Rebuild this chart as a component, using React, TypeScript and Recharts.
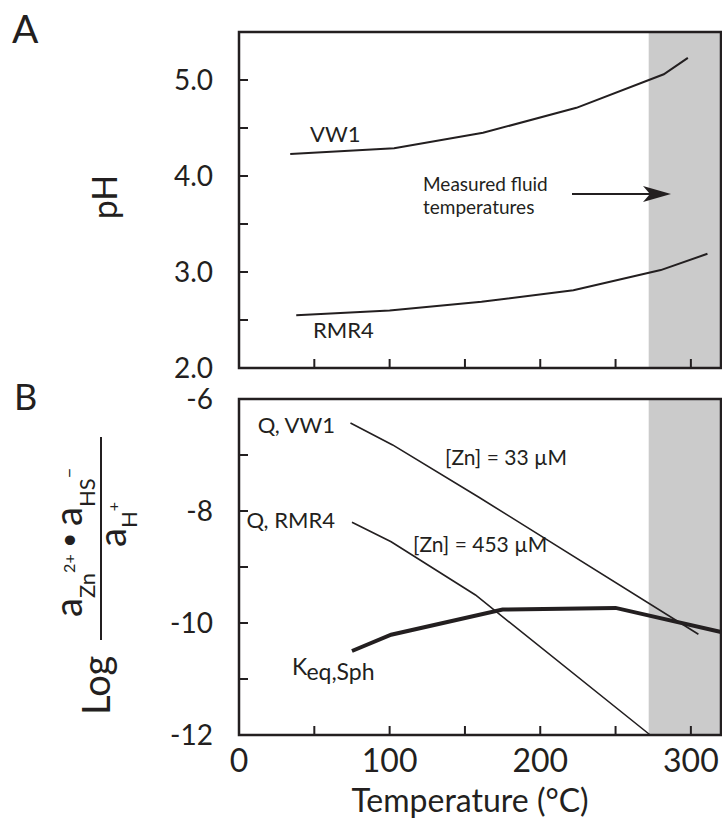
import React from 'react'
import { LineChart, Line, XAxis, YAxis, ReferenceArea } from 'recharts'

const FONT = 'Lato, "Noto Sans", sans-serif'
const INK = '#231f20'

// panel A - pH against temperature
const vw1Temp = [34, 103, 162, 224, 282, 298]
const vw1PH = [4.23, 4.29, 4.45, 4.71, 5.06, 5.23]
const rmr4Temp = [38, 100, 161, 222, 280, 311]
const rmr4PH = [2.55, 2.6, 2.69, 2.81, 3.02, 3.19]

// panel B - log Q / log K against temperature
const qVw1Temp = [74, 102, 159, 305]
const qVw1Log = [-6.43, -6.82, -7.75, -10.2]
const qRmr4Temp = [75, 101, 157, 273]
const qRmr4Log = [-8.2, -8.55, -9.5, -12]
const keqTemp = [75, 101, 175, 250, 320]
const keqLog = [-10.5, -10.21, -9.76, -9.73, -10.16]

const tempTicks = [0, 50, 100, 150, 200, 250, 300]
const phTicks = [2, 2.5, 3, 3.5, 4, 4.5, 5]
const logTicks = [-12, -11, -10, -9, -8, -7, -6]
const measuredRange = [272, 320]

const zip = (t: number[], v: number[]) => t.map((x, i) => ({ t: x, v: v[i] }))

const TICK_LEN = 9
const Y_GAP = 26
const X_GAP = 37

// ticks point into the plot, labels sit outside
const yTick = (fmt: (v: number) => string | null) => (props: any) => {
  const { x, y, payload } = props
  const ax = x + Y_GAP
  const label = fmt(payload.value)
  return (
    <g>
      <line x1={ax} x2={ax + TICK_LEN} y1={y} y2={y} stroke={INK} strokeWidth={2} />
      {label && (
        <text x={x} y={y} dy="0.36em" textAnchor="end" fontSize={28} fontFamily={FONT} fill={INK}>
          {label}
        </text>
      )}
    </g>
  )
}

const xTick = (withLabels: boolean) => (props: any) => {
  const { x, y, payload } = props
  const ay = y - X_GAP
  const v = payload.value
  return (
    <g>
      {v > 0 && <line x1={x} x2={x} y1={ay} y2={ay - TICK_LEN} stroke={INK} strokeWidth={2} />}
      {withLabels && v % 100 === 0 && (
        <text x={x} y={y} textAnchor="middle" fontSize={32} fontFamily={FONT} fill={INK}>
          {v}
        </text>
      )}
    </g>
  )
}

const W = 722

export default function App() {
  return (
    <div style={{ position: 'absolute', left: 0, top: 0, width: W, height: 827, background: '#fff' }}>
      <div style={{ position: 'absolute', left: 0, top: 0 }}>
        <LineChart width={W} height={400} margin={{ top: 32, right: 1, left: 0, bottom: 20 }}>
          <XAxis
            type="number"
            dataKey="t"
            domain={[0, 320]}
            ticks={tempTicks}
            interval={0}
            height={12}
            axisLine={false}
            tickLine={false}
            tickSize={0}
            tickMargin={X_GAP}
            tick={xTick(false)}
          />
          <YAxis
            type="number"
            domain={[2, 5.5]}
            ticks={phTicks}
            interval={0}
            width={239}
            axisLine={false}
            tickLine={false}
            tickSize={0}
            tickMargin={Y_GAP}
            tick={yTick((v) => (Number.isInteger(v) ? v.toFixed(1) : null))}
          />
          <ReferenceArea x1={measuredRange[0]} x2={measuredRange[1]} y1={2} y2={5.5} fill="#cbcbcb" fillOpacity={1} stroke="none" />
          <Line data={zip(vw1Temp, vw1PH)} dataKey="v" type="linear" stroke={INK} strokeWidth={2} dot={false} isAnimationActive={false} />
          <Line data={zip(rmr4Temp, rmr4PH)} dataKey="v" type="linear" stroke={INK} strokeWidth={2} dot={false} isAnimationActive={false} />
          <ReferenceArea x1={0} x2={320} y1={2} y2={5.5} fill="none" stroke={INK} strokeWidth={2.5} />
        </LineChart>
      </div>

      <div style={{ position: 'absolute', left: 0, top: 380 }}>
        <LineChart width={W} height={447} margin={{ top: 19, right: 1, left: 0, bottom: 0 }}>
          <XAxis
            type="number"
            dataKey="t"
            domain={[0, 320]}
            ticks={tempTicks}
            interval={0}
            height={92}
            axisLine={false}
            tickLine={false}
            tickSize={0}
            tickMargin={X_GAP}
            tick={xTick(true)}
          />
          <YAxis
            type="number"
            domain={[-12, -6]}
            ticks={logTicks}
            interval={0}
            width={239}
            axisLine={false}
            tickLine={false}
            tickSize={0}
            tickMargin={Y_GAP}
            tick={yTick((v) => (v % 2 === 0 ? String(v) : null))}
          />
          <ReferenceArea x1={measuredRange[0]} x2={measuredRange[1]} y1={-12} y2={-6} fill="#cbcbcb" fillOpacity={1} stroke="none" />
          <Line data={zip(qVw1Temp, qVw1Log)} dataKey="v" type="linear" stroke={INK} strokeWidth={1.6} dot={false} isAnimationActive={false} />
          <Line data={zip(qRmr4Temp, qRmr4Log)} dataKey="v" type="linear" stroke={INK} strokeWidth={1.6} dot={false} isAnimationActive={false} />
          <Line data={zip(keqTemp, keqLog)} dataKey="v" type="linear" stroke={INK} strokeWidth={4} dot={false} isAnimationActive={false} />
          <ReferenceArea x1={0} x2={320} y1={-12} y2={-6} fill="none" stroke={INK} strokeWidth={2.5} />
        </LineChart>
      </div>

      {/* labels and annotations */}
      <svg width={W} height={827} style={{ position: 'absolute', left: 0, top: 0, pointerEvents: 'none' }} fontFamily={FONT} fill={INK}>
        <text x={12} y={43} fontSize={39}>A</text>
        <text x={14} y={410} fontSize={36}>B</text>

        <text transform="translate(117 197) rotate(-90)" textAnchor="middle" fontSize={34}>pH</text>

        <g transform="translate(101 715) rotate(-90)">
          <text x={0} y={9} fontSize={38}>Log</text>
          <line x1={75} x2={278} y1={0} y2={0} stroke={INK} strokeWidth={2} />
          <text x={98} y={-19} fontSize={38}>
            a<tspan fontSize={22} dy={13}>Zn</tspan>
            <tspan fontSize={16} dy={-20}>2+</tspan>
            <tspan fontSize={26} dy={3}> • </tspan>
            <tspan fontSize={38} dy={4}>a</tspan>
            <tspan fontSize={22} dy={13}>HS</tspan>
            <tspan fontSize={18} dy={-20}>−</tspan>
          </text>
          <text x={168} y={25} fontSize={38}>
            a<tspan fontSize={22} dy={11}>H</tspan>
            <tspan fontSize={16} dy={-18}>+</tspan>
          </text>
        </g>

        <text x={310} y={142} fontSize={22}>VW1</text>
        <text x={313} y={338} fontSize={22}>RMR4</text>
        <text x={423} y={191} fontSize={19}>Measured fluid</text>
        <text x={423} y={214} fontSize={19}>temperatures</text>
        <line x1={572} x2={652} y1={194} y2={194} stroke={INK} strokeWidth={2} />
        <polygon points="671,194 643,186 650,194 643,202" fill={INK} />

        <text x={335} y={433} fontSize={22} textAnchor="end">Q, VW1</text>
        <text x={335} y={528} fontSize={22} textAnchor="end">Q, RMR4</text>
        <text x={445} y={465} fontSize={21}>[Zn] = 33 µM</text>
        <text x={413} y={552} fontSize={21}>[Zn] = 453 µM</text>
        <text x={292} y={675} fontSize={23}>
          K<tspan dy={5}>eq,Sph</tspan>
        </text>

        <text x={470} y={812} fontSize={32} textAnchor="middle">Temperature (°C)</text>
      </svg>
    </div>
  )
}
